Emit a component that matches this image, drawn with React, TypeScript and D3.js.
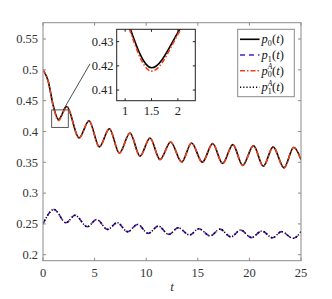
import React from "react";
import * as d3 from "d3";

// ---------- data ----------
const p0T = [0, 0.5, 1.0, 1.5, 2.3, 3.5, 4.46, 5.46, 6.43, 7.4, 8.43, 9.4, 10.37, 11.34, 12.37, 13.44, 14.4, 15.44, 16.44, 17.4, 18.4, 19.35, 20.4, 21.35, 22.3, 23.35, 24.3, 25];
const p0V = [0.5, 0.482, 0.4415, 0.4192, 0.4406, 0.3895, 0.4175, 0.375, 0.4045, 0.365, 0.3975, 0.36, 0.3895, 0.3544, 0.383, 0.3506, 0.3814, 0.35, 0.3805, 0.348, 0.3786, 0.345, 0.377, 0.3435, 0.375, 0.341, 0.3743, 0.3544];
const p0AV = [0.5, 0.4815, 0.4405, 0.4178, 0.4401, 0.3892, 0.4172, 0.3748, 0.4043, 0.3648, 0.3973, 0.3598, 0.3893, 0.3542, 0.3828, 0.3504, 0.3812, 0.3498, 0.3803, 0.3478, 0.3784, 0.3448, 0.3768, 0.3433, 0.3748, 0.3408, 0.3741, 0.3542];
const p1T = [0, 1.07, 2.23, 3.1, 4.3, 5.2, 6.25, 7.2, 8.2, 9.17, 10.2, 11.17, 12.2, 13.1, 14.2, 15.1, 16.2, 17.15, 18.2, 19.15, 20.2, 21.2, 22.25, 23.1, 24.25, 25];
const p1V = [0.25, 0.2735, 0.2519, 0.264, 0.2455, 0.2573, 0.2411, 0.2519, 0.2374, 0.2492, 0.2346, 0.2465, 0.233, 0.2438, 0.232, 0.2422, 0.2305, 0.2415, 0.229, 0.24, 0.2278, 0.2384, 0.2275, 0.2374, 0.2266, 0.2374];
const p1AV = p1V;

const xTicks = [0, 5, 10, 15, 20, 25];
const yTicks = [0.2, 0.25, 0.3, 0.35, 0.4, 0.45, 0.5, 0.55];
const xDomain = [0, 25];
const yDomain = [0.1903, 0.5765];

const insetXDomain = [0.84, 2.33];
const insetYDomain = [0.4056, 0.4351];
const insetXTicks = [1, 1.5, 2];
const insetYTicks = [0.41, 0.42, 0.43];

const zoomBoxT = [0.84, 2.45];
const zoomBoxV = [0.4066, 0.435];
const connectorT = [1.97, 4.55];
const connectorV = [0.435, 0.5097];

// legend entries: [subscript, has superscript A]
const legendSubs = ["0", "1", "0", "1"];
const legendSups = [false, false, true, true];

// ---------- styles ----------
const BLACK = "#000000";
const PURPLE = "#5a1ac8";
const RED = "#f0401a";
const FONT = "'Liberation Serif', 'DejaVu Serif', serif";

const S_P0 = { t: p0T, v: p0V, color: BLACK, dash: null as string | null, w: 1.6 };
const S_P0A = { t: p0T, v: p0AV, color: RED, dash: "5 2 1.5 2", w: 1.6 };
const S_P1 = { t: p1T, v: p1V, color: PURPLE, dash: "5 4", w: 1.6 };
const S_P1A = { t: p1T, v: p1AV, color: BLACK, dash: "1.2 2", w: 1.5 };
const drawOrder = [S_P0, S_P0A, S_P1, S_P1A];
const legendOrder = [S_P0, S_P1, S_P0A, S_P1A];

function fmt(v: number) {
  return String(+v.toFixed(3));
}

function LegendLabel({ sub, sup, x, y }: { sub: string; sup: boolean; x: number; y: number }) {
  return (
    <text x={x} y={y} fontFamily={FONT} fontSize={12.5} fill="#111">
      <tspan fontStyle="italic">p</tspan>
      <tspan dy={2.5} fontSize={8}>{sub}</tspan>
      {sup ? (
        <tspan dx={-4.1} dy={-8} fontSize={7.5} fontStyle="italic">A</tspan>
      ) : null}
      <tspan dy={sup ? 5.5 : -2.5} dx={sup ? -0.2 : 0.3}>(</tspan>
      <tspan fontStyle="italic">t</tspan>
      <tspan>)</tspan>
    </text>
  );
}

export default function App() {
  const W = 332, H = 299;
  const L = 43, R = 301, T = 22.7, B = 260.7;
  const x = d3.scaleLinear().domain(xDomain).range([L, R]);
  const y = d3.scaleLinear().domain(yDomain).range([B, T]);

  const IL = 116.7, IR = 195.3, IT = 29.3, IB = 100.7;
  const ix = d3.scaleLinear().domain(insetXDomain).range([IL, IR]);
  const iy = d3.scaleLinear().domain(insetYDomain).range([IB, IT]);

  const mkLine = (sx: any, sy: any) =>
    d3.line<[number, number]>().x((d) => sx(d[0])).y((d) => sy(d[1])).curve(d3.curveMonotoneX);
  const mainLine = mkLine(x, y);
  const insetLine = mkLine(ix, iy);
  const pts = (t: number[], v: number[]) => t.map((tt, i) => [tt, v[i]] as [number, number]);

  const axisColor = "#8a8a8a";
  const labelColor = "#333";
  const tickLen = 3;

  const legX0 = 237.7, legX1 = 294.3, legY0 = 29.3, legY1 = 96.7;
  const rowsY = [39.3, 55, 70.7, 87.3];

  return (
    <svg width={W} height={H} style={{ position: "absolute", left: 0, top: 0, background: "#fff" }}>
      <defs>
        <clipPath id="mainClip">
          <rect x={L} y={T} width={R - L} height={B - T} />
        </clipPath>
        <clipPath id="insetClip">
          <rect x={IL} y={IT} width={IR - IL} height={IB - IT} />
        </clipPath>
      </defs>
      <rect x={0} y={0} width={W} height={H} fill="#fff" />

      {/* main series */}
      <g clipPath="url(#mainClip)">
        {drawOrder.map((s, i) => (
          <path
            key={i}
            d={mainLine(pts(s.t, s.v)) || ""}
            fill="none"
            stroke={s.color}
            strokeWidth={s.w}
            strokeDasharray={s.dash || undefined}
          />
        ))}
      </g>

      {/* main frame */}
      <rect x={L} y={T} width={R - L} height={B - T} fill="none" stroke={axisColor} strokeWidth={1} />
      {xTicks.map((t) => (
        <g key={"xt" + t}>
          <line x1={x(t)} x2={x(t)} y1={B} y2={B - tickLen} stroke={axisColor} />
          <line x1={x(t)} x2={x(t)} y1={T} y2={T + tickLen} stroke={axisColor} />
          <text x={x(t)} y={277} textAnchor="middle" fontFamily={FONT} fontSize={12.5} fill={labelColor}>
            {fmt(t)}
          </text>
        </g>
      ))}
      {yTicks.map((v) => (
        <g key={"yt" + v}>
          <line x1={L} x2={L + tickLen} y1={y(v)} y2={y(v)} stroke={axisColor} />
          <line x1={R} x2={R - tickLen} y1={y(v)} y2={y(v)} stroke={axisColor} />
          <text x={38} y={y(v) + 4.3} textAnchor="end" fontFamily={FONT} fontSize={12.5} fill={labelColor}>
            {fmt(v)}
          </text>
        </g>
      ))}
      <text x={(L + R) / 2} y={291} textAnchor="middle" fontFamily={FONT} fontSize={13} fontStyle="italic" fill={labelColor}>
        t
      </text>

      {/* zoom box + connector */}
      <rect
        x={x(zoomBoxT[0])}
        y={y(zoomBoxV[1])}
        width={x(zoomBoxT[1]) - x(zoomBoxT[0])}
        height={y(zoomBoxV[0]) - y(zoomBoxV[1])}
        fill="none"
        stroke="#444"
        strokeWidth={0.9}
      />
      <line
        x1={x(connectorT[0])}
        y1={y(connectorV[0])}
        x2={x(connectorT[1])}
        y2={y(connectorV[1])}
        stroke="#222"
        strokeWidth={0.8}
      />

      {/* inset */}
      <rect x={IL} y={IT} width={IR - IL} height={IB - IT} fill="#fff" />
      <g clipPath="url(#insetClip)">
        {[S_P0, S_P0A].map((s, i) => (
          <path
            key={i}
            d={insetLine(pts(s.t, s.v)) || ""}
            fill="none"
            stroke={s.color}
            strokeWidth={s.w}
            strokeDasharray={s.dash || undefined}
          />
        ))}
      </g>
      <rect x={IL} y={IT} width={IR - IL} height={IB - IT} fill="none" stroke="#222" strokeWidth={1} />
      {insetXTicks.map((t) => (
        <g key={"ixt" + t}>
          <line x1={ix(t)} x2={ix(t)} y1={IB} y2={IB - 2.5} stroke="#222" />
          <line x1={ix(t)} x2={ix(t)} y1={IT} y2={IT + 2.5} stroke="#222" />
          <text x={ix(t)} y={115} textAnchor="middle" fontFamily={FONT} fontSize={12.5} fill="#222">
            {fmt(t)}
          </text>
        </g>
      ))}
      {insetYTicks.map((v) => (
        <g key={"iyt" + v}>
          <line x1={IL} x2={IL + 2.5} y1={iy(v)} y2={iy(v)} stroke="#222" />
          <line x1={IR} x2={IR - 2.5} y1={iy(v)} y2={iy(v)} stroke="#222" />
          <text x={113.5} y={iy(v) + 4.3} textAnchor="end" fontFamily={FONT} fontSize={12.5} fill="#222">
            {fmt(v)}
          </text>
        </g>
      ))}

      {/* legend */}
      <rect x={legX0} y={legY0} width={legX1 - legX0} height={legY1 - legY0} fill="#fff" stroke={axisColor} strokeWidth={1} />
      {legendOrder.map((s, i) => (
        <g key={"leg" + i}>
          <line
            x1={240}
            x2={259.5}
            y1={rowsY[i]}
            y2={rowsY[i]}
            stroke={s.color}
            strokeWidth={s.w}
            strokeDasharray={s.dash || undefined}
          />
          <LegendLabel sub={legendSubs[i]} sup={legendSups[i]} x={261.5} y={rowsY[i] + 4} />
        </g>
      ))}
    </svg>
  );
}
